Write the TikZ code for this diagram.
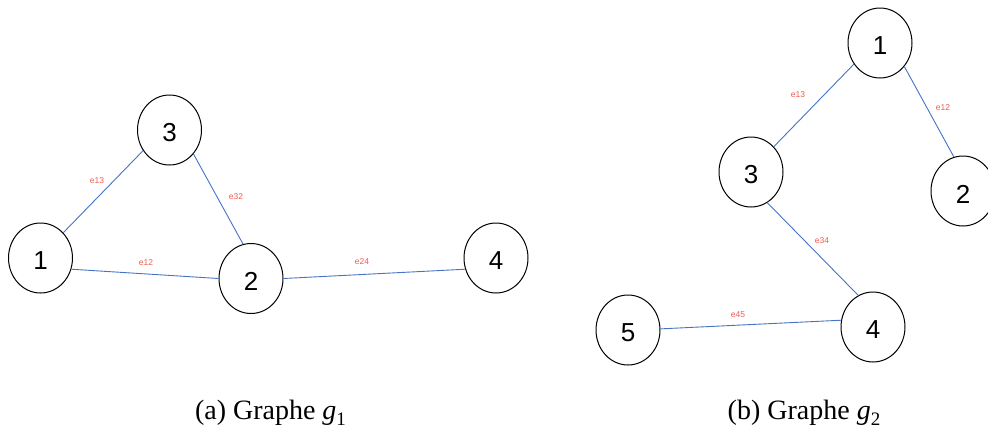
\documentclass[tikz,border=0pt]{standalone}
\usepackage{fontspec}
\setmainfont{Liberation Serif}
\newfontfamily\helv{Liberation Sans}
\usetikzlibrary{shapes.geometric}
\definecolor{edgeblue}{RGB}{70,115,196}
\definecolor{labelred}{RGB}{238,92,82}
\tikzset{
  vertex/.style={draw=black, line width=1pt, ellipse, minimum width=64pt, minimum height=70pt,
    inner sep=0pt, font=\helv\fontsize{26}{26}\selectfont},
  link/.style={draw=edgeblue, line width=0.9pt},
  elabel/.style={text=labelred, font=\helv\fontsize{8.5}{8.5}\selectfont, inner sep=0pt},
  caption/.style={font=\fontsize{28}{28}\selectfont, inner sep=0pt, anchor=base}
}
\newcommand{\subone}[1]{\textit{g}\raisebox{-0.22em}{\fontsize{19}{19}\selectfont #1}}
% vertex digit, set a little below the centre of its circle
\newcommand{\vlab}[1]{\raisebox{-3pt}[\height][\depth]{#1}}
\begin{document}
\begin{tikzpicture}[x=1pt, y=-1pt]
\useasboundingbox (0,0) rectangle (988,429);
\begin{scope}
\clip (0,0) rectangle (988,429);
% graph g1
\node[vertex] (a1) at (40.5,258) {\vlab{1}};
\node[vertex] (a2) at (251,278.5) {\vlab{2}};
\node[vertex] (a3) at (169.5,130) {\vlab{3}};
\node[vertex] (a4) at (496,258) {\vlab{4}};
\draw[link] (a1.48) -- (a3.218);
\draw[link] (a3.-45) -- (a2.103);
\draw[link] (a1.-20) -- (a2.180);
\draw[link] (a2.0) -- (a4.200);
\node[elabel] (l13) at (97,181) {e13};
\node[elabel] (l32) at (236,197) {e32};
\node[elabel] (l12) at (146,263) {e12};
\node[elabel] (l24) at (362,262) {e24};
% graph g2
\node[vertex] (b1) at (880,43) {\vlab{1}};
\node[vertex] (b2) at (963,191) {\vlab{2}};
\node[vertex] (b3) at (751,172) {\vlab{3}};
\node[vertex] (b4) at (873,327) {\vlab{4}};
\node[vertex] (b5) at (628,330) {\vlab{5}};
\draw[link] (b1.219) -- (b3.48);
\draw[link] (b1.-44) -- (b2.105);
\draw[link] (b3.-62) -- (b4.115);
\draw[link] (b5.2) -- (b4.168);
\node[elabel] (k13) at (798,95) {e13};
\node[elabel] (k12) at (943,108) {e12};
\node[elabel] (k34) at (822,241) {e34};
\node[elabel] (k45) at (738,315) {e45};
\end{scope}
% captions
\node[caption] (capa) at (270.5,419) {(a) Graphe \subone{1}};
\node[caption] (capb) at (804,419) {(b) Graphe \subone{2}};
\end{tikzpicture}
\end{document}
